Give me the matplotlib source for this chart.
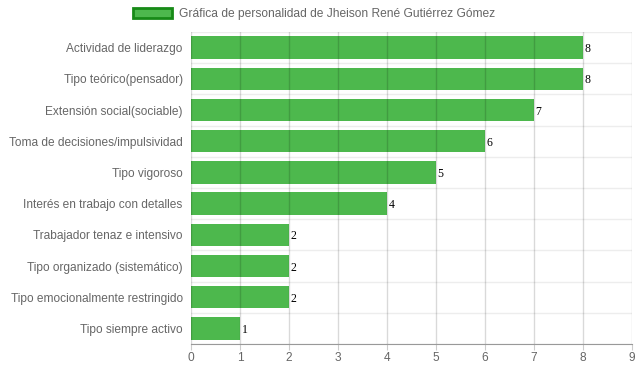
import matplotlib.pyplot as plt
from matplotlib.patches import Patch

# Data
categories = [
    'Actividad de liderazgo',
    'Tipo teórico(pensador)',
    'Extensión social(sociable)',
    'Toma de decisiones/impulsividad',
    'Tipo vigoroso',
    'Interés en trabajo con detalles',
    'Trabajador tenaz e intensivo',
    'Tipo organizado (sistemático)',
    'Tipo emocionalmente restringido',
    'Tipo siempre activo',
]
values = [8, 8, 7, 6, 5, 4, 2, 2, 2, 1]
x_ticks = list(range(0, 10))
legend_label = 'Gráfica de personalidad de Jheison René Gutiérrez Gómez'

plt.rcParams['font.family'] = ['Liberation Sans', 'DejaVu Sans']

fig = plt.figure(figsize=(6.39, 3.72), dpi=100)
ax = fig.add_axes([191 / 639, 1 - 344 / 372, (632 - 191) / 639, (344 - 32) / 372])

ypos = list(range(len(categories)))
bars = ax.barh(ypos, values, height=0.72, color='#4db84d', zorder=2)

ax.set_ylim(len(categories) - 0.5, -0.5)
ax.set_xlim(0, 9)
ax.set_xticks(x_ticks)
ax.set_yticks(ypos)
ax.set_yticklabels(categories)

# grid lines: vertical on ticks, horizontal between categories
for x in x_ticks:
    ax.axvline(x, color='#000000', alpha=0.15, lw=1, zorder=3)
for i in range(len(categories) + 1):
    ax.axhline(i - 0.5, color='#000000', alpha=0.07, lw=1, zorder=1)

for s in ['top', 'right', 'left']:
    ax.spines[s].set_visible(False)
ax.spines['bottom'].set_color('#999999')
ax.tick_params(axis='x', colors='#cccccc', labelcolor='#666666', labelsize=8.6, length=4.5, pad=1.5)
ax.tick_params(axis='y', length=0, labelcolor='#666666', labelsize=8.6, pad=6)

# value labels
for b, v in zip(bars, values):
    ax.text(b.get_width() + 0.03, b.get_y() + b.get_height() / 2 + 0.05, str(v),
            fontfamily='Liberation Serif', fontsize=8.5, color='#000000',
            va='center', ha='left', zorder=4)

handle = Patch(facecolor='#4db84d', edgecolor='#178a17', linewidth=2)
fig.legend([handle], [legend_label], loc='center', bbox_to_anchor=(314 / 639, 1 - 14 / 372),
           frameon=False, fontsize=8.65, labelcolor='#666666', handlelength=3.2,
           handleheight=0.9, handletextpad=0.6)

fig.savefig('out.png', dpi=100)
